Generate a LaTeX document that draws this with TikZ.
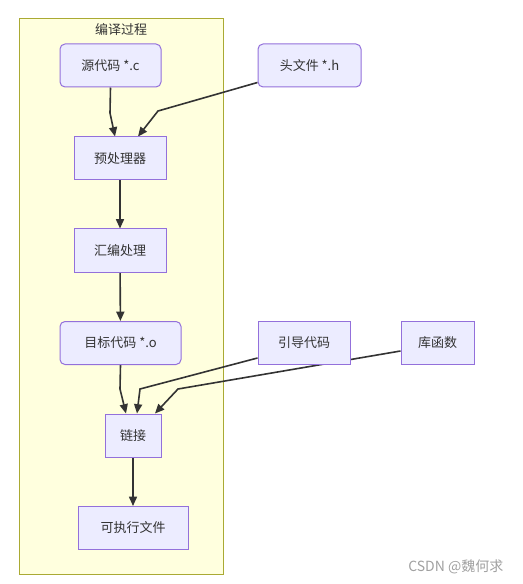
\documentclass[tikz,border=0pt]{standalone}
\usepackage{fontspec}
\setmainfont{Noto Sans CJK SC}
\usetikzlibrary{arrows.meta,calc}
\definecolor{nodefill}{HTML}{ECECFF}
\definecolor{nodeline}{HTML}{9370DB}
\definecolor{clusterfill}{HTML}{FFFFDE}
\definecolor{clusterline}{HTML}{AAAA33}
\definecolor{edgecol}{HTML}{333333}
\definecolor{markgray}{HTML}{A0A0A0}
\pgfdeclarelayer{bg}
\pgfdeclarelayer{edges}
\pgfsetlayers{bg,edges,main}
\tikzset{
  box/.style={draw=nodeline, fill=nodefill, line width=0.75pt, text=edgecol,
    minimum height=32.25pt, inner sep=0pt, font=\fontsize{9.75}{12}\selectfont},
  rbox/.style={box, rounded corners=3.75pt},
  flow/.style={draw=edgecol, line width=1.2pt, -{Triangle[length=7pt,width=6pt]}},
}

\begin{document}
\begin{tikzpicture}[x=0.75pt,y=0.75pt,yscale=-1]
    \useasboundingbox (0,0) rectangle (523,584);

    %Cluster
    \begin{pgfonlayer}{bg}
    \draw [draw=clusterline, fill=clusterfill, line width=0.75pt] (19,19) rectangle (223,574);
    \end{pgfonlayer}
    \node [text=edgecol, font=\fontsize{9.75}{12}\selectfont] (title) at (121,30) {编译过程};

    %Nodes
    \node [rbox, minimum width=75.75pt] (src) at (110.5,65.5) {源代码 *.c};
    \node [rbox, minimum width=77.25pt] (head) at (309.5,65.5) {头文件 *.h};
    \node [box, minimum width=69pt] (pre) at (120,158.5) {预处理器};
    \node [box, minimum width=69pt] (asm) at (120,250.5) {汇编处理};
    \node [rbox, minimum width=90.75pt] (obj) at (120.5,343) {目标代码 *.o};
    \node [box, minimum width=69pt] (boot) at (304,343) {引导代码};
    \node [box, minimum width=54.75pt] (lib) at (437.5,343) {库函数};
    \node [box, minimum width=42pt] (link) at (133,435.5) {链接};
    \node [box, minimum width=82.5pt] (exe) at (133,528) {可执行文件};

    %Edges
    \begin{pgfonlayer}{edges}
    \draw [flow] (src.south) -- (110,113) -- ($(pre.north)+(-5,0)$);
    \draw [flow] ($(head.south west)+(0,-5)$) -- (158,111) -- ($(pre.north)+(18,0)$);
    \draw [flow] (pre) -- (asm);
    \draw [flow] (asm) -- (obj);
    \draw [flow] (obj.south) -- (120,389) -- ($(link.north)+(-7,0)$);
    \draw [flow] ($(boot.south west)+(0,-7)$) -- (140,389) -- ($(link.north)+(4,0)$);
    \draw [flow] ($(lib.south west)+(0,-14)$) -- (178,389) -- ($(link.north)+(22,0)$);
    \draw [flow] (link) -- (exe);
    \end{pgfonlayer}

    %Watermark
    \node [text=markgray, font=\fontsize{10.5}{12}\selectfont, anchor=east] (mark) at (508,567) {CSDN @魏何求};
\end{tikzpicture}
\end{document}
